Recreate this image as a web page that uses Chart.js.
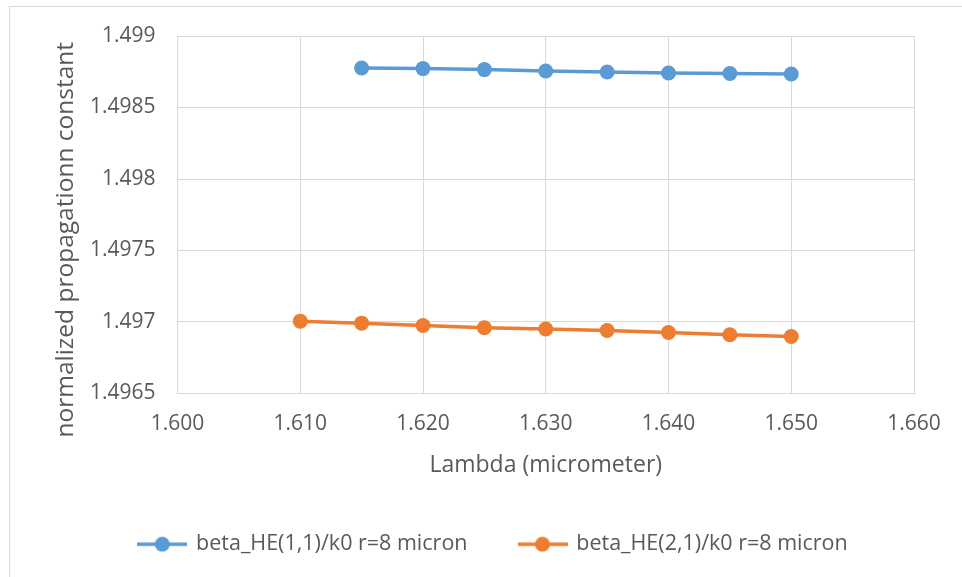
<!DOCTYPE html>
<html>
<head>
<meta charset="utf-8">
<script src="https://cdn.jsdelivr.net/npm/chart.js@4/dist/chart.umd.min.js"></script>
<style>
  html, body { margin: 0; padding: 0; background: #ffffff; }
  #wrap { width: 962px; height: 577px; position: relative; }
</style>
</head>
<body>
<div id="wrap"><canvas id="c" width="962" height="577"></canvas></div>
<script>
// Wavelength axis (micrometer) and its tick labels
const xTicks = [1.600, 1.610, 1.620, 1.630, 1.640, 1.650, 1.660];
const xTickLabels = ['1.600', '1.610', '1.620', '1.630', '1.640', '1.650', '1.660'];

// Normalized propagation constant axis and its tick labels
const yTicks = [1.4965, 1.497, 1.4975, 1.498, 1.4985, 1.499];
const yTickLabels = ['1.4965', '1.497', '1.4975', '1.498', '1.4985', '1.499'];

// HE(1,1) mode, r = 8 micron
const lambdaHE11 = [1.615, 1.620, 1.625, 1.630, 1.635, 1.640, 1.645, 1.650];
const betaHE11 = [1.498776, 1.498772, 1.498765, 1.498755, 1.498748, 1.498741, 1.498738, 1.498734];

// HE(2,1) mode, r = 8 micron
const lambdaHE21 = [1.610, 1.615, 1.620, 1.625, 1.630, 1.635, 1.640, 1.645, 1.650];
const betaHE21 = [1.497006, 1.496992, 1.496976, 1.496960, 1.496951, 1.496941, 1.496927, 1.496911, 1.496899];

const seriesNames = ['beta_HE(1,1)/k0 r=8 micron', 'beta_HE(2,1)/k0 r=8 micron'];

const BLUE = '#5B9BD5';
const ORANGE = '#ED7D31';
const TEXT = '#595959';
const GRID = '#D9D9D9';
const FONT = '"Open Sans", "Noto Sans", sans-serif';
const seriesColors = [BLUE, ORANGE];

function toPoints(xs, ys) {
  return xs.map((x, i) => ({ x: x, y: ys[i] }));
}

// Legend swatch: a short line with a round marker in the middle
function legendSwatch(color) {
  const c = document.createElement('canvas');
  c.width = 50; c.height = 18;
  const g = c.getContext('2d');
  g.strokeStyle = color;
  g.lineWidth = 3.5;
  g.beginPath(); g.moveTo(0, 9); g.lineTo(50, 9); g.stroke();
  g.fillStyle = color;
  g.beginPath(); g.arc(25, 9, 7.5, 0, Math.PI * 2); g.fill();
  return c;
}

// Outer frame of the chart, legend row nudged right, y title lowered a bit
const framePlugin = {
  id: 'frame',
  afterLayout(chart) {
    if (chart.legend) {
      chart.legend.left += 32;
      chart.legend.right += 32;
    }
    const y = chart.scales.y;
    if (y && !y._titleShifted) {
      const orig = y.drawTitle;
      y.drawTitle = function () {
        this.ctx.save();
        this.ctx.translate(0, 25);
        orig.apply(this, arguments);
        this.ctx.restore();
      };
      y._titleShifted = true;
    }
  },
  beforeDraw(chart) {
    const ctx = chart.ctx;
    ctx.save();
    ctx.fillStyle = '#ffffff';
    ctx.fillRect(0, 0, chart.width, chart.height);
    ctx.strokeStyle = GRID;
    ctx.lineWidth = 1;
    ctx.strokeRect(9.5, 6.5, chart.width, chart.height);
    ctx.restore();
  }
};

function seriesStyle(color) {
  return {
    borderColor: color,
    backgroundColor: color,
    borderWidth: 3.5,
    pointRadius: 7.5,
    pointHoverRadius: 7.5,
    pointBorderWidth: 0,
    tension: 0
  };
}

new Chart(document.getElementById('c'), {
  type: 'line',
  data: {
    datasets: [
      Object.assign({ label: seriesNames[0], data: toPoints(lambdaHE11, betaHE11) }, seriesStyle(BLUE)),
      Object.assign({ label: seriesNames[1], data: toPoints(lambdaHE21, betaHE21) }, seriesStyle(ORANGE))
    ]
  },
  options: {
    responsive: false,
    animation: false,
    events: [],
    layout: { padding: { left: 9, right: 48, top: 36, bottom: 12 } },
    font: { family: FONT },
    plugins: {
      tooltip: { enabled: false },
      legend: {
        position: 'bottom',
        labels: {
          color: TEXT,
          font: { family: FONT, size: 21.5 },
          usePointStyle: true,
          pointStyleWidth: 46,
          boxHeight: 18,
          padding: 52,
          generateLabels(chart) {
            return chart.data.datasets.map((ds, i) => ({
              text: ds.label,
              fontColor: TEXT,
              pointStyle: legendSwatch(seriesColors[i]),
              strokeStyle: 'transparent',
              fillStyle: 'transparent',
              lineWidth: 0,
              hidden: false,
              datasetIndex: i
            }));
          }
        }
      }
    },
    scales: {
      x: {
        type: 'linear',
        min: xTicks[0],
        max: xTicks[xTicks.length - 1],
        afterBuildTicks(scale) { scale.ticks = xTicks.map(v => ({ value: v })); },
        afterFit(scale) { scale.height = 88; },
        grid: { color: GRID, lineWidth: 1, drawTicks: false },
        border: { color: GRID, width: 1 },
        ticks: {
          color: TEXT,
          font: { family: FONT, size: 21 },
          padding: 18,
          maxRotation: 0,
          autoSkip: false,
          callback(value, index) { return xTickLabels[index]; }
        },
        title: {
          display: true,
          text: 'Lambda (micrometer)',
          color: TEXT,
          font: { family: FONT, size: 23 },
          padding: { top: 0, bottom: 2 }
        }
      },
      y: {
        type: 'linear',
        min: yTicks[0],
        max: yTicks[yTicks.length - 1],
        afterBuildTicks(scale) { scale.ticks = yTicks.map(v => ({ value: v })); },
        afterFit(scale) { scale.width = 168.5; },
        grid: { color: GRID, lineWidth: 1, drawTicks: false },
        border: { color: GRID, width: 1 },
        ticks: {
          color: TEXT,
          font: { family: FONT, size: 21 },
          padding: 22,
          autoSkip: false,
          callback(value, index) { return yTickLabels[index]; }
        },
        title: {
          display: true,
          text: 'normalized propagationn constant',
          color: TEXT,
          font: { family: FONT, size: 24.5 },
          padding: { top: 42, bottom: 0 }
        }
      }
    }
  },
  plugins: [framePlugin]
});
</script>
</body>
</html>
